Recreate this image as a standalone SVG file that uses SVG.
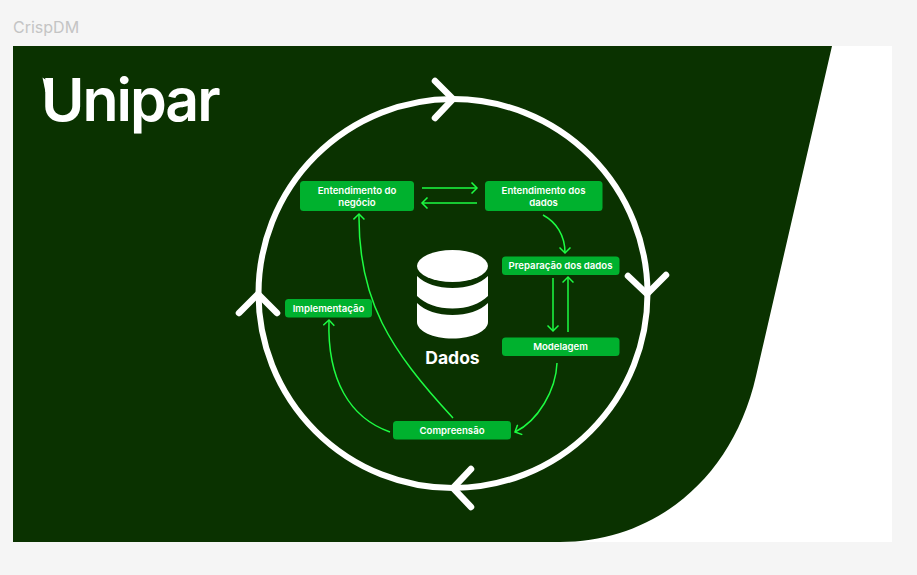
<svg xmlns="http://www.w3.org/2000/svg" width="917" height="575" viewBox="0 0 917 575">
<defs>
<marker id="ah" viewBox="0 0 12 12" refX="10" refY="6" markerWidth="12" markerHeight="12" markerUnits="userSpaceOnUse" orient="auto"><path d="M4.5 .5 L10 6 L4.5 11.5" fill="none" stroke="#1dfc42" stroke-width="1.5"/></marker>
</defs>
<style>
.box{fill:#00b12e}
.t{font-family:Inter,"Liberation Sans",sans-serif;font-size:9.6px;font-weight:600;fill:#fff;text-anchor:middle}
.c{fill:none;stroke:#1dfc42;stroke-width:1.5;marker-end:url(#ah)}
.w{fill:none;stroke:#fff;stroke-width:6.5;stroke-linecap:round;stroke-linejoin:round}
</style>
<rect width="917" height="575" fill="#f5f5f5"/>
<rect x="13" y="46" width="879" height="496" fill="#fff"/>
<text x="13" y="33" font-family="Inter,'Liberation Sans',sans-serif" font-size="16" fill="#c4c4c4">CrispDM</text>
<path id="panel" d="M13 46 H832 L756 376 C733 478 655 542 560 542 H13 Z" fill="#0a3200"/>
<g id="logo"><text x="41" y="121" font-family="Inter,'Liberation Sans',sans-serif" font-size="59" font-weight="600" fill="#fff" letter-spacing="-2">Unipar</text><path d="M42.500 77.500 L47.500 81 L52 92 H45.500 Z" fill="#fff"/></g>
<g id="cycle">
<circle cx="453" cy="293.500" r="194.500" fill="none" stroke="#fff" stroke-width="6"/>
<path class="w" d="M435 81 L453 99 L435 118"/>
<path class="w" d="M628 276 L647 294 L666 275"/>
<path class="w" d="M471 469 L453 488 L471 507"/>
<path class="w" d="M239 313 L258 294 L277 313"/>
</g>
<g id="connectors">
<path class="c" d="M422 188 H477"/>
<path class="c" d="M477 203 H422"/>
<path class="c" d="M543 215 C556 222 565 235 565 253"/>
<path class="c" d="M553 278 V331"/>
<path class="c" d="M568 332 V277"/>
<path class="c" d="M557 363 C556 390 538 421 515 432"/>
<path class="c" d="M453 418 C390 350 358 300 359 214"/>
<path class="c" d="M390 432 C350 418 327 380 329 320"/>
</g>
<g id="n1"><rect class="box" x="300" y="181" width="114" height="30" rx="3.500"/><text class="t" x="357" y="194">Entendimento do</text><text class="t" x="357" y="205.500">negócio</text></g>
<g id="n2"><rect class="box" x="485" y="181" width="117.500" height="30" rx="3.500"/><text class="t" x="543.500" y="194">Entendimento dos</text><text class="t" x="543.500" y="205.500">dados</text></g>
<g id="n3"><rect class="box" x="502" y="256.500" width="117.500" height="18.500" rx="3.500"/><text class="t" x="560.500" y="269">Preparação dos dados</text></g>
<g id="n4"><rect class="box" x="502" y="337.500" width="117.500" height="18.500" rx="3.500"/><text class="t" x="560.500" y="350">Modelagem</text></g>
<g id="n5"><rect class="box" x="393" y="421" width="118" height="18.500" rx="3.500"/><text class="t" x="452" y="434">Compreensão</text></g>
<g id="n6"><rect class="box" x="285" y="299" width="87" height="18.500" rx="3.500"/><text class="t" x="328.500" y="312">Implementação</text></g>
<g id="dados">
<ellipse cx="452.500" cy="266" rx="35.500" ry="16" fill="#fff"/>
<path d="M417 276 C425 284 438 288 452.500 288 C467 288 480 284 488 276 V296 C480 304 467 308.500 452.500 308.500 C438 308.500 425 304 417 296 Z" fill="#fff"/>
<path d="M417 303 C425 311 438 315 452.500 315 C467 315 480 311 488 303 V322 C488 331 472 338.500 452.500 338.500 C433 338.500 417 331 417 322 Z" fill="#fff"/>
<text x="452.500" y="364" font-family="Inter,'Liberation Sans',sans-serif" font-size="17.500" font-weight="700" fill="#fff" text-anchor="middle">Dados</text>
</g>
</svg>
